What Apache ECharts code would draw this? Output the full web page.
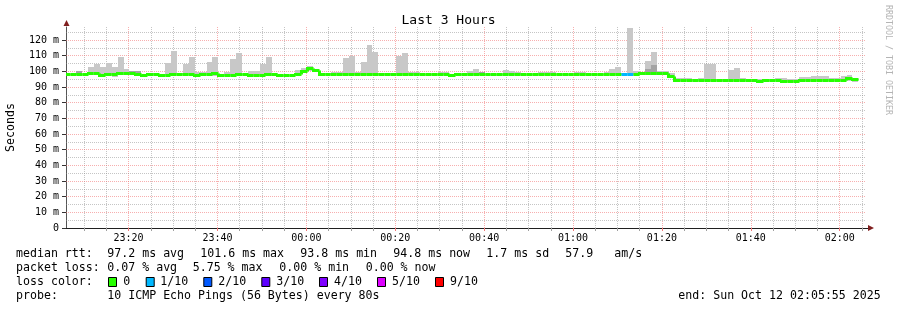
<!DOCTYPE html>
<html><head><meta charset="utf-8">
<script src="https://cdn.jsdelivr.net/npm/echarts@6/dist/echarts.min.js"></script>
<style>html,body{margin:0;padding:0;background:#fff}#c{width:897px;height:310px}</style>
</head><body><div id="c"></div>
<script>
// ---- time frame (seconds since 2025-10-11 00:00 local) ----
const startTime = 83155;   // 23:05:55
const endTime = 93955;     // 02:05:55 (next day)
const firstStep = 83132;   // start of first 80 s step
const stepSec = 80;
const timeLabels = ['23:20','23:40','00:00','00:20','00:40','01:00','01:20','01:40','02:00'];
const yTickValues = [0,10,20,30,40,50,60,70,80,90,100,110,120];

// ---- median rtt per 80 s step (ms) ----
const medianRtt = [
 98.1,98.1,98.1,98.1,98.5,98.5,97.3,98.1,98.1,98.5,
 98.5,98.4,98.2,97.3,98.1,98.1,97.3,97.3,98.1,98.1,
 98.2,98.2,97.3,98.1,98.2,98.5,97.6,97.3,97.3,98.1,
 98.1,97.3,97.3,97.3,98.0,98.1,97.3,97.3,97.3,98.0,
 99.8,101.6,100.3,98.2,98.2,98.2,98.2,98.2,98.2,98.2,
 98.2,98.2,98.2,98.2,98.2,98.2,98.2,98.2,98.2,98.2,
 98.2,98.2,98.2,98.2,98.2,97.3,98.2,98.2,98.2,98.2,
 98.2,98.0,97.9,97.9,98.2,98.2,98.2,98.2,98.2,98.2,
 98.2,98.2,98.2,98.2,98.2,97.8,98.2,98.2,98.2,98.2,
 98.2,98.2,98.2,98.2,98.2,98.2,98.2,98.5,98.5,98.5,
 98.5,98.5,97.0,94.3,94.3,94.3,94.3,94.3,94.3,94.3,
 94.3,94.3,94.3,94.3,94.3,94.3,94.3,93.5,94.3,94.3,
 94.3,93.6,93.6,93.6,94.3,94.3,94.3,94.3,94.3,94.3,
 94.3,94.3,95.3,94.5,null,null
];
// ---- highest ping per step (ms) ----
const smokeHi = [
 98.5,98.5,100.2,98.6,102.7,104.6,102.7,105.5,102.7,109.3,
 101.5,100.0,100.0,97.8,99.0,99.0,98.5,105.5,113.0,99.0,
 104.8,109.3,99.5,99.5,105.7,109.3,98.0,99.6,107.8,111.9,
 98.5,100.0,100.0,104.8,109.3,99.0,97.8,97.8,97.8,100.8,
 101.9,103.4,101.0,98.8,98.8,99.5,99.5,108.5,109.8,99.5,
 105.9,116.8,112.3,99.0,99.0,99.0,109.8,111.7,99.3,99.3,
 98.6,98.6,98.6,99.7,99.7,98.0,98.6,98.6,100.0,101.5,
 99.7,98.4,98.3,98.3,100.8,100.5,99.3,98.6,98.6,98.6,
 99.6,99.6,99.6,98.6,98.6,98.2,99.5,99.5,98.6,98.6,
 98.6,99.5,101.5,102.7,98.8,127.6,100.0,99.5,106.6,112.3,
 100.0,100.0,99.0,95.7,95.7,95.7,94.8,95.7,104.8,104.8,
 95.0,95.0,100.8,102.3,95.7,95.0,95.0,95.0,95.3,95.3,
 95.7,95.7,95.0,95.0,96.4,96.4,97.2,97.2,97.2,95.7,
 95.7,96.8,97.6,96.0,null,null
];
// ---- lowest ping per step (ms) ----
const smokeLo = [
 97.8,97.8,97.8,97.8,97.8,97.5,97.0,97.5,96.6,97.5,
 97.8,97.8,97.8,97.0,97.8,97.8,97.0,97.0,97.8,97.8,
 97.8,97.8,97.0,97.8,97.5,97.0,97.0,97.0,97.0,97.8,
 97.8,97.0,97.0,97.0,97.0,97.8,97.0,97.0,97.0,97.5,
 99.3,100.5,99.5,97.8,97.8,97.8,97.8,97.8,97.8,97.8,
 97.8,97.8,97.8,97.8,97.8,97.8,97.8,97.8,97.8,97.8,
 97.8,97.8,97.8,97.8,97.8,97.0,97.8,97.8,97.8,97.8,
 97.8,97.6,97.5,97.5,97.8,97.8,97.8,97.8,97.8,97.8,
 97.8,97.8,97.8,97.8,97.8,97.4,97.8,97.8,97.8,97.8,
 97.8,97.8,97.8,97.8,97.8,97.8,97.8,97.8,97.8,97.8,
 97.8,97.8,96.5,93.8,93.8,93.8,93.8,93.8,93.8,93.8,
 93.8,93.8,93.8,93.8,93.8,93.8,93.8,93.2,93.8,93.8,
 93.8,93.2,93.2,93.2,93.8,93.8,93.8,93.8,93.8,93.8,
 93.8,93.8,94.0,93.5,null,null
];
// ---- inner (darker) smoke: step index and top value ----
const darkSmokeSteps = [2, 11, 12, 26, 70, 98, 99];
const darkSmokeTop   = [100.2, 100.0, 100.0, 98.5, 99.7, 101.5, 104.1];
// ---- packet loss (tenths) on steps with loss ----
const lossSteps = [94, 95];
const lossTenths = [1, 1];

const lossLegend = ['0','1/10','2/10','3/10','4/10','5/10','9/10'];
const lossColors = ['#26ff00','#00b8ff','#0059ff','#5e00ff','#7e00ff','#dd00ff','#ff0000'];

const MONO = '"DejaVu Sans Mono"';
function toSec(lbl){const [h,m]=lbl.split(':').map(Number);return (h<12?86400:0)+h*3600+m*60;}
const labelTimes = timeLabels.map(toSec);
function fmtTime(v){const h=Math.floor(v/3600)%24, m=Math.floor(v%3600/60);return String(h).padStart(2,'0')+':'+String(m).padStart(2,'0');}
function lossColor(t){return t<=5?lossColors[t]:lossColors[6];}

const lossByStep = medianRtt.map(()=>0);
lossSteps.forEach((s,i)=>{lossByStep[s]=lossTenths[i];});
const steps = [];
medianRtt.forEach((m,j)=>{ if(m!=null) steps.push(j); });
const smokeData = steps.map(j=>[firstStep+stepSec*j, firstStep+stepSec*(j+1), smokeLo[j], smokeHi[j]]);
const darkData = darkSmokeSteps.map((j,i)=>[firstStep+stepSec*j, firstStep+stepSec*(j+1), smokeLo[j], darkSmokeTop[i]]);
const medData = steps.map(j=>[firstStep+stepSec*j, firstStep+stepSec*(j+1), medianRtt[j],
  (j>0 && medianRtt[j-1]!=null)?medianRtt[j-1]:medianRtt[j], lossByStep[j]]);

// minor/major grid positions
const GRID_MINOR='rgba(140,140,140,0.5)', GRID_MAJOR='rgba(240,110,110,0.55)';
const minorX=[]; for(let t=Math.ceil(startTime/300)*300;t<=endTime;t+=300) minorX.push(t);
const gridLines=[];
minorX.forEach(t=>gridLines.push({xAxis:t,lineStyle:{color:t%1200===0?GRID_MAJOR:GRID_MINOR}}));
for(let v=5;v<=125;v+=5) gridLines.push({yAxis:v,lineStyle:{color:v%10===0?GRID_MAJOR:GRID_MINOR}});

function rectItem(color){
  return function(params, api){
    const p0=api.coord([api.value(0), api.value(3)]);
    const p1=api.coord([api.value(1), api.value(2)]);
    const x0=Math.round(p0[0]), x1=Math.round(p1[0]);
    const y0=Math.round(p0[1]), y1=Math.max(Math.round(p1[1]), y0+1);
    return {type:'rect', shape:{x:x0,y:y0,width:x1-x0,height:y1-y0}, style:{fill:color}};
  };
}
function crisp(v){return Math.round(v-0.5)+0.5;}

const chart = echarts.init(document.getElementById('c'), null, {renderer:'canvas'});
function txt(x,y,s,extra){return {type:'text',x:x,y:y,silent:true,style:Object.assign({text:s,font:'11.6px '+MONO,fill:'#000',align:'left',verticalAlign:'middle'},extra||{})};}
const graphics = [
  txt(16,254.3,'median rtt:'), txt(107.3,254.3,'97.2 ms avg'), txt(200.3,254.3,'101.6 ms max'),
  txt(300.3,254.3,'93.8 ms min'), txt(393.3,254.3,'94.8 ms now'), txt(486.3,254.3,'1.7 ms sd'),
  txt(565.3,254.3,'57.9'), txt(614.3,254.3,'am/s'),
  txt(16,268.3,'packet loss:'), txt(107.3,268.3,'0.07 % avg'), txt(192.7,268.3,'5.75 % max'),
  txt(279.3,268.3,'0.00 % min'), txt(365.7,268.3,'0.00 % now'),
  txt(16,282.3,'loss color:'),
  txt(16,296,'probe:'), txt(107.3,296,'10 ICMP Echo Pings (56 Bytes) every 80s'),
  txt(678.3,296,'end: Sun Oct 12 02:05:55 2025'),
  {type:'text',x:888.5,y:5,rotation:-Math.PI/2,silent:true,style:{text:'RRDTOOL / TOBI OETIKER',font:'8.3px '+MONO,fill:'#b4b4b4',align:'left',verticalAlign:'middle'}},
  {type:'polygon',silent:true,shape:{points:[[63.5,26],[69.5,26],[66.5,20]]},style:{fill:'#801f1f'}},
  {type:'polygon',silent:true,shape:{points:[[868,225],[868,231],[874,228]]},style:{fill:'#801f1f'}},
  {type:'line',silent:true,shape:{x1:62,y1:228.5,x2:868,y2:228.5},style:{stroke:'#1f1f1f',lineWidth:1}}
];
const boxX=[108,145.7,203.3,261.3,319,377,435], lblX=[123.3,160.3,218.3,276.3,334,392,450];
lossLegend.forEach((l,i)=>{
  graphics.push({type:'rect',silent:true,shape:{x:boxX[i]+0.5,y:277.5,width:8,height:9},style:{fill:lossColors[i],stroke:'#000',lineWidth:1}});
  graphics.push(txt(lblX[i],282.3,l));
});

chart.setOption({
  animation:false,
  backgroundColor:'#fff',
  title:{text:'Last 3 Hours',left:'center',top:9,textStyle:{fontFamily:MONO,fontSize:13,fontWeight:'normal',color:'#000'}},
  grid:{left:66,right:31,top:27,bottom:82,containLabel:false,outerBoundsMode:'none'},
  xAxis:[{
    type:'value',min:startTime,max:endTime,
    axisLine:{show:true,lineStyle:{color:'#1f1f1f',width:1}},
    axisTick:{show:true,customValues:minorX,length:3,lineStyle:{color:'#a0a0a0'}},
    axisLabel:{show:true,customValues:labelTimes,formatter:fmtTime,margin:5,fontFamily:MONO,fontSize:10,color:'#000'},
    splitLine:{show:false}
  },{
    type:'value',min:startTime,max:endTime,position:'bottom',
    axisLine:{show:false},
    axisTick:{show:true,customValues:labelTimes,length:3,lineStyle:{color:'#f07878'}},
    axisLabel:{show:false},splitLine:{show:false}
  }],
  yAxis:{
    type:'value',min:0,max:128.3,
    name:'Seconds',nameLocation:'middle',nameRotate:90,nameGap:49,
    nameTextStyle:{fontFamily:MONO,fontSize:11.6,color:'#000'},
    axisLine:{show:true,lineStyle:{color:'#555',width:1}},
    axisTick:{show:true,customValues:yTickValues,length:4,lineStyle:{color:'#333'}},
    axisLabel:{show:true,customValues:yTickValues,formatter:v=>v===0?'0':v+' m',margin:7,fontFamily:MONO,fontSize:10,color:'#000'},
    splitLine:{show:false}
  },
  graphic:graphics,
  series:[
    {type:'line',data:[],z:1,silent:true,
     markLine:{silent:true,z:1,symbol:['none','none'],animation:false,label:{show:false},
       emphasis:{disabled:true},lineStyle:{type:[1,1],width:1},data:gridLines}},
    {type:'custom',z:2,clip:true,silent:true,renderItem:rectItem('#c8c8c8'),data:smokeData},
    {type:'custom',z:3,clip:true,silent:true,renderItem:rectItem('#a4a4a4'),data:darkData},
    {type:'custom',z:4,clip:true,silent:true,data:medData,renderItem:function(params,api){
      const s=api.value(0),e=api.value(1),m=api.value(2),pm=api.value(3),loss=api.value(4);
      const a=api.coord([s,pm]),b=api.coord([s,m]),c=api.coord([e,m]);
      const xs=crisp(a[0]), xe=crisp(c[0]), yp=crisp(a[1]), y=crisp(b[1]);
      return {type:'polyline',shape:{points:[[xs,yp],[xs,y],[xe,y]]},
        style:{stroke:lossColor(loss),lineWidth:3,fill:null,lineJoin:'miter'}};
    }}
  ]
});
</script></body></html>
